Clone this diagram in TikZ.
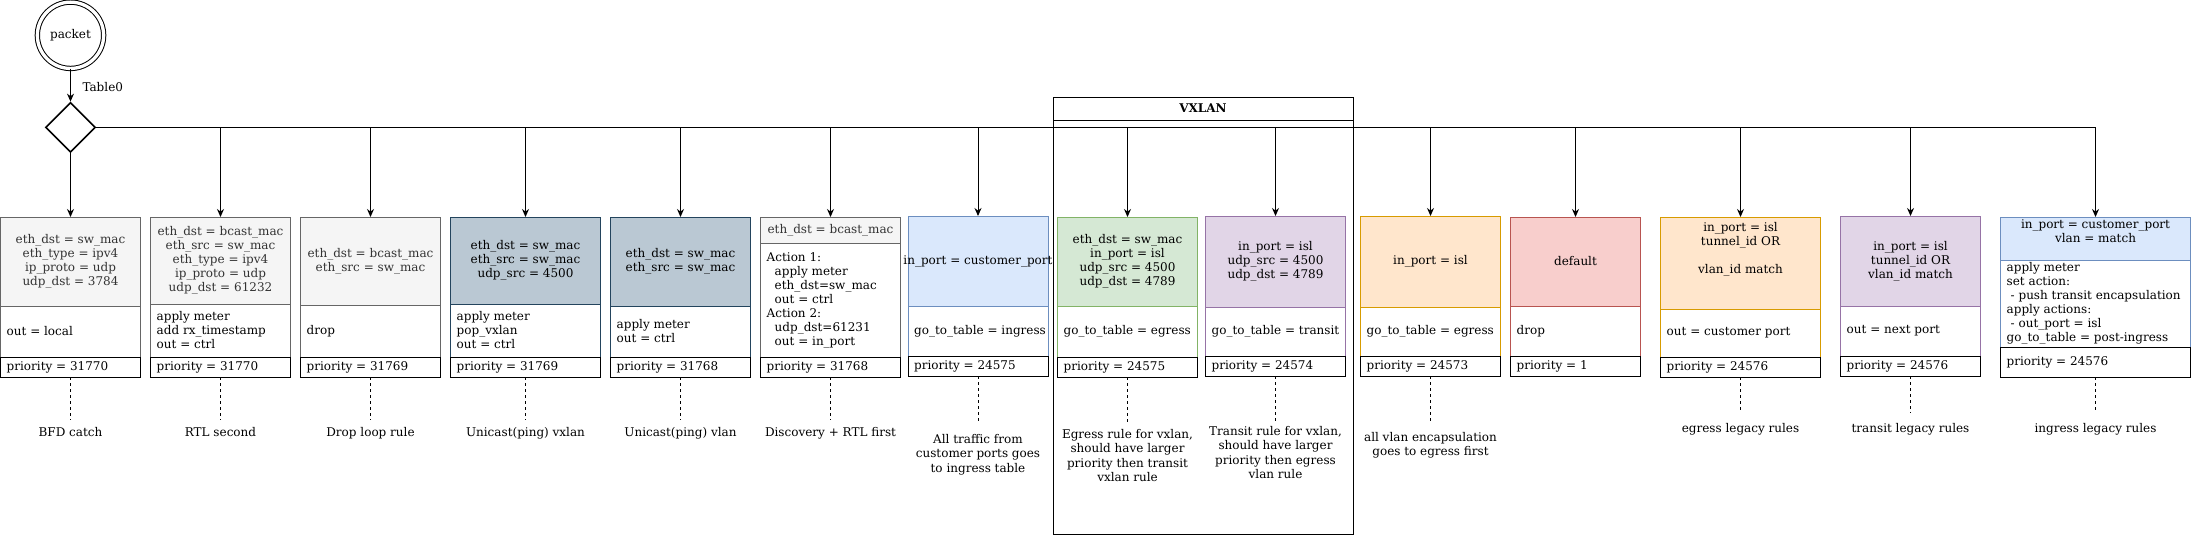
\documentclass[tikz,border=0pt]{standalone}
\usepackage{fontspec}
\setmainfont{DejaVu Serif}
\usetikzlibrary{arrows.meta,shapes.geometric}
\definecolor{gF}{HTML}{F5F5F5}\definecolor{gS}{HTML}{666666}\definecolor{gT}{HTML}{333333}
\definecolor{sF}{HTML}{BAC8D3}\definecolor{sS}{HTML}{23445D}
\definecolor{bF}{HTML}{DAE8FC}\definecolor{bS}{HTML}{6C8EBF}
\definecolor{nF}{HTML}{D5E8D4}\definecolor{nS}{HTML}{82B366}
\definecolor{pF}{HTML}{E1D5E7}\definecolor{pS}{HTML}{9673A6}
\definecolor{oF}{HTML}{FFE6CC}\definecolor{oS}{HTML}{D79B00}
\definecolor{rF}{HTML}{F8CECC}\definecolor{rS}{HTML}{B85450}
% #1 name #2 x #3 w #4 top #5 header bottom #6 priority top #7 bottom #8 stroke #9 fill
\newcommand\rbox[9]{%
  \pgfmathsetmacro\rbhh{#5-#4}\pgfmathsetmacro\rbah{#6-#5}\pgfmathsetmacro\rbph{#7-#6}%
  \node[box,draw=#8,fill=#9,minimum width=#3pt,minimum height=\rbhh pt] (h#1) at (#2,#4) {};
  \node[box,draw=#8,fill=white,minimum width=#3pt,minimum height=\rbah pt] (a#1) at (#2,#5) {};
  \node[box,draw=black,fill=white,minimum width=#3pt,minimum height=\rbph pt] (p#1) at (#2,#6) {};}
\newcommand\rtext[5][]{%
  \node[htext,#1] (th#2) at (h#2.center) {#3};
  \node[atext] (ta#2) at ([xshift=6pt]a#2.west) {#4};
  \node[ptext] (tp#2) at ([xshift=6pt]p#2.west) {#5};}
\begin{document}
\begin{tikzpicture}[x=1pt,y=-1pt,font=\fontsize{12}{14}\selectfont,
  box/.style={rectangle,inner sep=0pt,outer sep=0pt,anchor=north west,line width=1pt},
  htext/.style={align=center,inner sep=0pt},
  atext/.style={align=left,anchor=west,inner sep=0pt},
  ptext/.style={anchor=west,inner sep=0pt,text height=9pt,text depth=3pt},
  arr/.style={line width=1pt,-{Stealth[length=8pt,width=7pt]}},
  dsh/.style={line width=1pt,dash pattern=on 3pt off 3pt},
  captext/.style={anchor=north,align=center,inner xsep=0pt,font=\fontsize{12}{14.3}\selectfont}]
\useasboundingbox (0,0) rectangle (2191,535);

% VXLAN container
\node[draw,line width=1pt,minimum width=300pt,minimum height=437pt,inner sep=0pt,anchor=north west] (vx) at (1052.5,96.5) {};
\node[draw,line width=1pt,minimum width=300pt,minimum height=23pt,inner sep=0pt,anchor=north west,font=\fontsize{12}{14}\selectfont\bfseries] (vxt) at (1052.5,96.5) {VXLAN};

% start
\node[circle,draw,double,double distance=3.3pt,line width=1pt,minimum size=66.3pt,inner sep=0pt] (pk) at (70.5,35.3) {packet};
\node[diamond,draw,line width=1.6pt,minimum width=50pt,minimum height=50pt,inner sep=0pt] (dia) at (70.5,127.4) {};
\node[anchor=west,inner sep=0pt] (t0) at (82.3,86.7) {Table0};
\draw[arr] (pk.south) -- (dia.north);

% boxes
\rbox{1}{0.5}{140}{217}{306}{357}{377}{gS}{gF}
\rbox{2}{150.5}{140}{217}{304}{357}{377}{gS}{gF}
\rbox{3}{300.5}{140}{217}{305}{357}{377}{gS}{gF}
\rbox{4}{450.5}{150}{217}{304}{357}{377}{sS}{sF}
\rbox{5}{610.5}{140}{217}{306}{357}{377}{sS}{sF}
\rbox{6}{760.5}{140}{217}{243}{357}{377}{gS}{gF}
\rbox{7}{908}{140}{216}{306}{356}{376}{bS}{bF}
\rbox{8}{1057.5}{140}{217}{306}{357}{377}{nS}{nF}
\rbox{9}{1205.5}{140}{216}{307}{356}{376}{pS}{pF}
\rbox{10}{1360.5}{140}{216}{307}{356}{376}{oS}{oF}
\rbox{11}{1510.5}{130}{217}{306}{356}{376}{rS}{rF}
\rbox{12}{1660.5}{160}{217}{309}{357}{377}{oS}{oF}
\rbox{13}{1840.5}{140}{216}{306}{356}{376}{pS}{pF}
\rbox{14}{2000.5}{190}{217}{260}{347}{377}{bS}{bF}

\rtext[text=gT]{1}{eth\_dst = sw\_mac\\eth\_type = ipv4\\ip\_proto = udp\\udp\_dst = 3784}{out = local}{priority = 31770}
\rtext[text=gT]{2}{eth\_dst = bcast\_mac\\eth\_src = sw\_mac\\eth\_type = ipv4\\ip\_proto = udp\\udp\_dst = 61232}{apply meter\\add rx\_timestamp\\out = ctrl}{priority = 31770}
\rtext[text=gT]{3}{eth\_dst = bcast\_mac\\eth\_src = sw\_mac}{drop}{priority = 31769}
\rtext{4}{eth\_dst = sw\_mac\\eth\_src = sw\_mac\\udp\_src = 4500}{apply meter\\pop\_vxlan\\out = ctrl}{priority = 31769}
\rtext{5}{eth\_dst = sw\_mac\\eth\_src = sw\_mac}{apply meter\\out = ctrl}{priority = 31768}
\rtext[text=gT]{6}{eth\_dst = bcast\_mac}{Action 1:\\\hspace*{8pt}apply meter\\\hspace*{8pt}eth\_dst=sw\_mac\\\hspace*{8pt}out = ctrl\\Action 2:\\\hspace*{8pt}udp\_dst=61231\\\hspace*{8pt}out = in\_port}{priority = 31768}
\node[htext] (th7) at (h7.center) {\makebox[0pt]{in\_port = customer\_port}};
\begin{scope}
  \clip (a7.north west) rectangle (a7.south east);
  \node[atext] (ta7) at ([xshift=6pt]a7.west) {go\_to\_table = ingress};
\end{scope}
\node[ptext] (tp7) at ([xshift=6pt]p7.west) {priority = 24575};
\rtext{8}{eth\_dst = sw\_mac\\in\_port = isl\\udp\_src = 4500\\udp\_dst = 4789}{go\_to\_table = egress}{priority = 24575}
\rtext{9}{in\_port = isl\\udp\_src = 4500\\udp\_dst = 4789}{go\_to\_table = transit}{priority = 24574}
\rtext{10}{in\_port = isl}{go\_to\_table = egress}{priority = 24573}
\rtext{11}{default}{drop}{priority = 1}
\rtext[yshift=13.5pt]{12}{in\_port = isl\\tunnel\_id OR\\[14pt]vlan\_id match}{out = customer port}{priority = 24576}
\rtext{13}{in\_port = isl\\tunnel\_id OR\\vlan\_id match}{out = next port}{priority = 24576}
\rtext[yshift=7.5pt]{14}{in\_port = customer\_port\\vlan = match}{apply meter\\set action:\\\hspace*{4pt}- push transit encapsulation\\apply actions:\\\hspace*{4pt}- out\_port = isl\\go\_to\_table = post-ingress}{priority = 24576}

% connectors
\draw[arr] (dia.east) -| (h14.north);
\draw[arr] (dia.south) -- (h1.north);
\foreach \i in {2,3,4,5,6,7,8,9,10,11,12,13} {\draw[arr] (h\i.north |- dia.east) -- (h\i.north);}

% captions
\node[captext,inner ysep=7.8pt] (c1) at (70.5,419.5) {BFD catch};
\node[captext,inner ysep=7.8pt] (c2) at (220.5,419.5) {RTL second};
\node[captext,inner ysep=7.8pt] (c3) at (370.5,419.5) {Drop loop rule};
\node[captext,inner ysep=7.8pt] (c4) at (525.5,419.5) {Unicast(ping) vxlan};
\node[captext,inner ysep=7.8pt] (c5) at (680.5,419.5) {Unicast(ping) vlan};
\node[captext,inner ysep=7.8pt] (c6) at (830.5,419.5) {Discovery + RTL first};
\node[captext,inner ysep=11pt] (c7) at (978,423.3) {All traffic from\\customer ports goes\\to ingress table};
\node[captext,inner ysep=7pt] (c8) at (1127.5,422.3) {Egress rule for vxlan,\\should have larger\\priority then transit\\vxlan rule};
\node[captext,inner ysep=4.3pt] (c9) at (1275.5,422) {Transit rule for vxlan,\\should have larger\\priority then egress\\vlan rule};
\node[captext,inner ysep=9pt] (c10) at (1430.5,422.7) {all vlan encapsulation\\goes to egress first};
\node[captext,inner ysep=10pt] (c12) at (1740.5,412.7) {egress legacy rules};
\node[captext,inner ysep=10pt] (c13) at (1910.5,412.7) {transit legacy rules};
\node[captext,inner ysep=10pt] (c14) at (2095.5,412.7) {ingress legacy rules};
\foreach \i in {1,2,3,4,5,6,7,8,9,10,12,13,14} {\draw[dsh] (p\i.south) -- (c\i.north);}
\end{tikzpicture}
\end{document}
